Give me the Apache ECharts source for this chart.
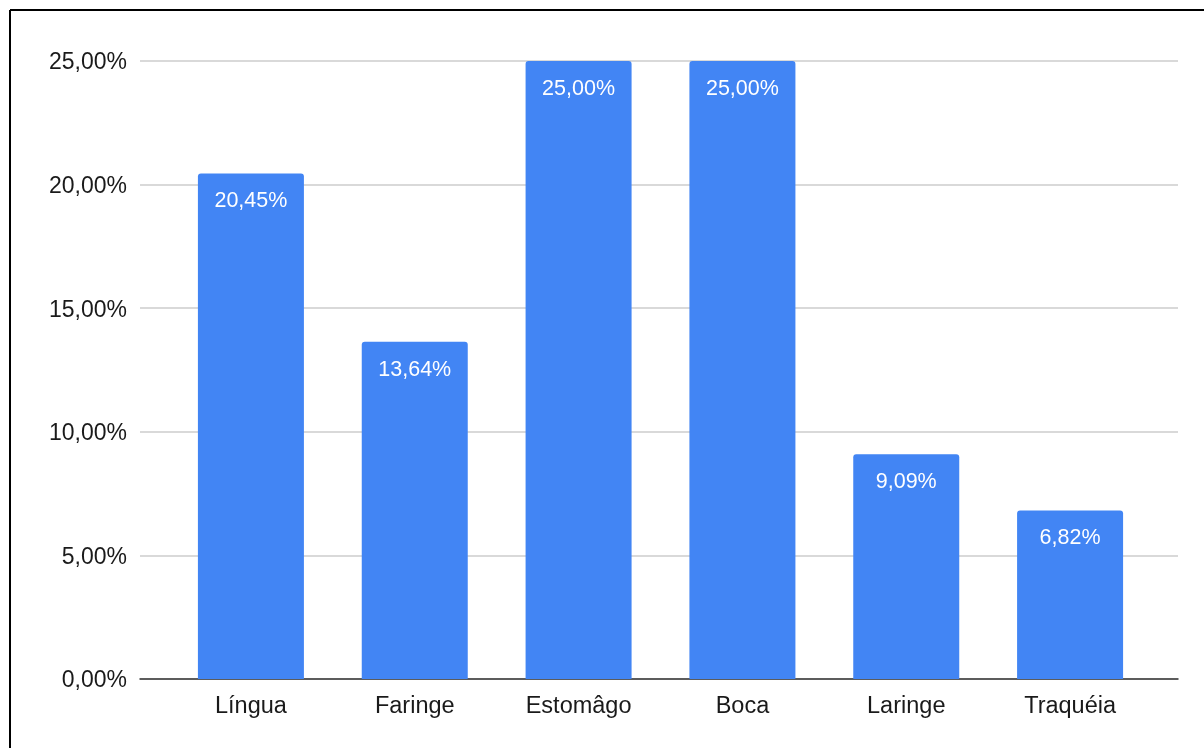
<!DOCTYPE html>
<html>
<head>
<meta charset="utf-8">
<script src="https://cdn.jsdelivr.net/npm/echarts@6/dist/echarts.min.js"></script>
<style>
  html, body { margin: 0; padding: 0; background: #fff; }
  #chart { width: 1204px; height: 748px; }
</style>
</head>
<body>
<div id="chart"></div>
<script>
// Tumour sites and their share of cases (%)
const categories = ['Língua', 'Faringe', 'Estomâgo', 'Boca', 'Laringe', 'Traquéia'];
const shares = [20.45, 13.64, 25.00, 25.00, 9.09, 6.82];
const yTicks = [0, 5, 10, 15, 20, 25];

const fmt = v => v.toFixed(2).replace('.', ',') + '%';
const font = '"Liberation Sans", Arial, sans-serif';

const chart = echarts.init(document.getElementById('chart'), null, { renderer: 'canvas' });

chart.setOption({
  backgroundColor: '#ffffff',
  animation: false,
  graphic: [
    // page frame
    { type: 'line', shape: { x1: 10, y1: 10, x2: 1204, y2: 10 }, style: { stroke: '#000', lineWidth: 2 } },
    { type: 'line', shape: { x1: 10, y1: 10, x2: 10, y2: 748 }, style: { stroke: '#000', lineWidth: 2 } }
  ],
  grid: [
    // wide grid: gridlines, value labels and baseline
    { left: 140, right: 26, top: 61, bottom: 69, containLabel: false },
    // inner grid: bars and category labels
    { left: 169, right: 52, top: 61, bottom: 69, containLabel: false }
  ],
  xAxis: [
    {
      gridIndex: 0, type: 'category', data: [''],
      axisLine: { show: true, lineStyle: { color: '#333', width: 1.5 } },
      axisTick: { show: false }, axisLabel: { show: false }
    },
    {
      gridIndex: 1, type: 'category', data: categories,
      axisLine: { show: false }, axisTick: { show: false },
      axisLabel: { color: '#1a1a1a', fontSize: 23.5, fontFamily: font, margin: 16 }
    }
  ],
  yAxis: [
    {
      gridIndex: 0, type: 'value', min: yTicks[0], max: yTicks[yTicks.length - 1], interval: 5,
      axisLine: { show: false }, axisTick: { show: false },
      splitLine: { lineStyle: { color: '#cccccc', width: 1.5 } },
      axisLabel: {
        color: '#1a1a1a', fontSize: 23, fontFamily: font, margin: 13,
        formatter: v => '{t|' + fmt(v) + '}',
        rich: { t: { color: '#1a1a1a', fontSize: 23, fontFamily: font, padding: [4, 0, 0, 0] } }
      }
    },
    {
      gridIndex: 1, type: 'value', min: yTicks[0], max: yTicks[yTicks.length - 1], interval: 5,
      show: false
    }
  ],
  series: [
    {
      type: 'bar',
      xAxisIndex: 1, yAxisIndex: 1,
      data: shares,
      barWidth: 106,
      itemStyle: { color: '#4285f4', borderRadius: [3, 3, 0, 0] },
      label: {
        show: true, position: 'insideTop', distance: 17,
        color: '#ffffff', fontSize: 21.5, fontFamily: font,
        formatter: p => fmt(p.value)
      }
    }
  ]
});
</script>
</body>
</html>
